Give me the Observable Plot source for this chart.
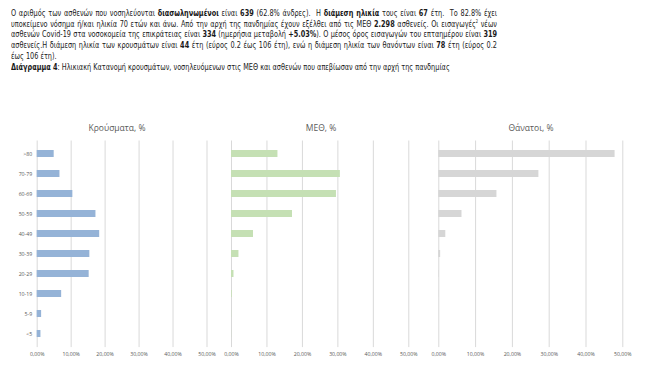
<!DOCTYPE html>
<html><head><meta charset="utf-8">
<script src="https://cdn.jsdelivr.net/npm/d3@7"></script>
<script src="https://cdn.jsdelivr.net/npm/@observablehq/plot@0.6"></script>
<style>
body{margin:0;background:#fff;width:671px;height:366px;overflow:hidden;position:relative;}
#text{position:absolute;left:11px;top:8px;width:600px;font-family:"DejaVu Sans Condensed","DejaVu Sans",sans-serif;font-size:9.4px;color:#1a1a1a;line-height:10.7px;transform-origin:0 0;}
.l{white-space:nowrap;}
.j{white-space:normal;text-align:justify;text-align-last:justify;}
sup{font-size:5px;line-height:0;vertical-align:4px;}
.panel{position:absolute;top:110px;}
.title{position:absolute;font-family:"Open Sans",sans-serif;font-size:8.5px;color:#595959;transform:translate(-50%,-50%);white-space:nowrap;}
</style></head>
<body>
<div id="text">
<div class="j"><span class="m">Ο αριθμός των ασθενών που νοσηλεύονται <b>διασωληνωμένοι</b> είναι <b>639</b> (62.8% άνδρες).&nbsp; Η <b>διάμεση ηλικία</b> τους είναι <b>67</b> έτη.&nbsp; Το 82.8% έχει</span></div>
<div class="j"><span class="m">υποκείμενο νόσημα ή/και ηλικία 70 ετών και άνω. Από την αρχή της πανδημίας έχουν εξέλθει από τις ΜΕΘ <b>2.298</b> ασθενείς. Οι εισαγωγές<sup>2</sup> νέων</span></div>
<div class="j"><span class="m">ασθενών Covid-19 στα νοσοκομεία της επικράτειας είναι <b>334</b> (ημερήσια μεταβολή <b>+5.03%</b>). Ο μέσος όρος εισαγωγών του επταημέρου είναι <b>319</b></span></div>
<div class="j"><span class="m">ασθενείς.Η διάμεση ηλικία των κρουσμάτων είναι <b>44</b> έτη (εύρος 0.2 έως 106 έτη), ενώ η διάμεση ηλικία των θανόντων είναι <b>78</b> έτη (εύρος 0.2</span></div>
<div class="l">έως 106 έτη).</div>
<div class="l"><span id="cap"><b>Διάγραμμα 4</b>: Ηλικιακή Κατανομή κρουσμάτων, νοσηλευόμενων στις ΜΕΘ και ασθενών που απεβίωσαν από την αρχή της πανδημίας</span></div>
</div>
<script>
const ageGroups = [">80", "70-79", "60-69", "50-59", "40-49", "30-39", "20-29", "10-19", "5-9", "<5"];
const casesPct  = [5.0, 6.7, 10.5, 17.3, 18.4, 15.5, 15.3, 7.2, 1.3, 1.1];
const icuPct    = [13.1, 30.7, 29.6, 17.2, 6.2, 2.1, 0.7, 0.2, 0.05, 0.03];
const deathsPct = [47.9, 27.2, 15.8, 6.3, 1.9, 0.5, 0.1, 0.02, 0.0, 0.0];
const xTicks = [0, 10, 20, 30, 40, 50];
const panelTitles = ["Κρούσματα, %", "ΜΕΘ, %", "Θάνατοι, %"];

// fit paragraph horizontally so every justified line fits in 486px
(function fitText() {
  const box = document.getElementById("text");
  box.style.width = "2000px";
  const spans = Array.from(box.querySelectorAll(".m"));
  spans.forEach(s => { const p = s.parentNode.style; p.whiteSpace = "nowrap"; p.textAlign = "left"; p.textAlignLast = "left"; });
  const widths = spans.map(s => s.getBoundingClientRect().width);
  const capW = document.getElementById("cap").getBoundingClientRect().width;
  const s = Math.min(449 / capW, ...widths.map(w => 482 / w));
  spans.forEach(sp => { const p = sp.parentNode.style; p.whiteSpace = ""; p.textAlign = ""; p.textAlignLast = ""; });
  box.style.width = (486 / s) + "px";
  box.style.transform = `scaleX(${s})`;
})();

const fmt = d => d.toFixed(2).replace(".", ",") + "%";

function panel(values, color, cfg) {
  const data = ageGroups.map((g, i) => ({group: g, value: values[i]}));
  const marks = [
    Plot.ruleX(xTicks, {stroke: "#d9d9d9", strokeWidth: 1}),
    Plot.barX(data, {x: "value", y: "group", fill: color}),
    Plot.axisX({ticks: xTicks, tickFormat: fmt, tickSize: 0, tickPadding: 5, fontSize: 5.2, fill: "#595959", label: null})
  ];
  if (cfg.yAxis) marks.push(Plot.axisY({tickSize: 0, tickPadding: 5, fontSize: 5.2, fill: "#595959", label: null}));
  const svg = Plot.plot({
    width: cfg.width, height: 256,
    marginLeft: cfg.ml, marginRight: cfg.mr, marginTop: 30.5, marginBottom: 18.9,
    style: {fontFamily: "Open Sans, sans-serif", background: "transparent", color: "#595959"},
    x: {domain: [0, 50], axis: null},
    y: {domain: ageGroups, paddingInner: 0.66, paddingOuter: 0.33, axis: null},
    marks
  });
  const wrap = document.createElement("div");
  wrap.className = "panel";
  wrap.style.left = cfg.left + "px";
  wrap.appendChild(svg);
  document.body.appendChild(wrap);
  const t = document.createElement("div");
  t.className = "title";
  t.textContent = cfg.title;
  t.style.left = cfg.tx + "px";
  t.style.top = "127px";
  document.body.appendChild(t);
}

panel(casesPct, "#95b3d7", {left: 0, width: 230, ml: 36.7, mr: 23.5, yAxis: true, title: panelTitles[0], tx: 117});
panel(icuPct, "#c5e0b4", {left: 210, width: 225, ml: 21, mr: 26.7, yAxis: false, title: panelTitles[1], tx: 321});
panel(deathsPct, "#d6d6d6", {left: 420, width: 251, ml: 18.3, mr: 48.7, yAxis: false, title: panelTitles[2], tx: 531});
</script>
</body></html>
